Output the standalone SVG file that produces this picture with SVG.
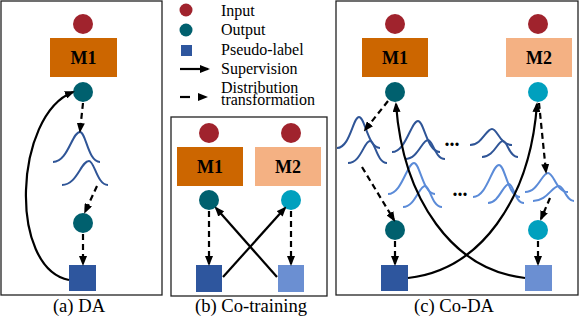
<svg xmlns="http://www.w3.org/2000/svg" width="580" height="318" viewBox="0 0 580 318">
<style>
.panel{fill:#fff;stroke:#222;stroke-width:1.3}
.in{fill:#A0232D}
.out1{fill:#00606E}
.out2{fill:#00A0BE}
.sq1{fill:#2E569E}
.sq2{fill:#6B8FD2}
.m1{fill:#CC6600}
.m2{fill:#F4B183}
text{font-family:'Liberation Serif','DejaVu Serif',serif}
.mt{font-weight:bold;font-size:18px;text-anchor:middle;fill:#000}
.lt{font-size:16px;fill:#000}
.cap{font-size:18.6px;text-anchor:middle;fill:#000}
.dots{font-weight:bold;font-size:20px;text-anchor:middle;fill:#000}
.sup{fill:none;stroke:#000;stroke-width:2.2;marker-end:url(#ah)}
.dis{fill:none;stroke:#000;stroke-width:2.2;stroke-dasharray:6 4;marker-end:url(#ah)}
.gd{fill:none;stroke:#2F5597;stroke-width:2}
.gl{fill:none;stroke:#5B8BD8;stroke-width:2}
</style>
<defs>
<marker id="ah" viewBox="0 0 10 8" refX="8" refY="4" markerWidth="10" markerHeight="8" markerUnits="userSpaceOnUse" orient="auto">
<path d="M0,0 L10,4 L0,8 z" fill="#000"/>
</marker>
</defs>

<!-- panel frames -->
<rect id="panel-a" class="panel" x="1" y="1" width="161" height="294"/>
<rect id="panel-b" class="panel" x="171" y="117" width="156" height="179"/>
<rect id="panel-c" class="panel" x="336" y="1" width="242" height="294"/>

<!-- Panel (a) nodes -->
<g id="a-input"><circle class="in" cx="83" cy="24" r="10"/></g>
<g id="a-m1"><rect class="m1" x="50" y="38" width="67" height="39"/><text class="mt" x="83.5" y="64">M1</text></g>
<g id="a-out"><circle class="out1" cx="83" cy="92" r="10"/></g>
<g id="a-dist">
<path class="gd" d="M53,162 C68,162 72,132 80,132 C86,132 88,162 100,162"/>
<path class="gd" d="M62,185 C77,185 81,161 89,161 C94.5,161 97,185 108,185"/>
</g>
<g id="a-out2"><circle class="out1" cx="83" cy="223" r="10"/></g>
<g id="a-pl"><rect class="sq1" x="69" y="265" width="27" height="26"/></g>

<!-- Panel (b) nodes -->
<g id="b-input1"><circle class="in" cx="209" cy="133" r="10"/></g>
<g id="b-input2"><circle class="in" cx="291" cy="133" r="10"/></g>
<g id="b-m1"><rect class="m1" x="177" y="147" width="66" height="39"/><text class="mt" x="210" y="173">M1</text></g>
<g id="b-m2"><rect class="m2" x="255" y="147" width="66" height="39"/><text class="mt" x="288" y="173">M2</text></g>
<g id="b-out1"><circle class="out1" cx="209" cy="200" r="10"/></g>
<g id="b-out2"><circle class="out2" cx="291" cy="200" r="10"/></g>
<g id="b-pl1"><rect class="sq1" x="196" y="265" width="26" height="27"/></g>
<g id="b-pl2"><rect class="sq2" x="278" y="265" width="26" height="27"/></g>

<!-- Panel (c) nodes -->
<g id="c-input1"><circle class="in" cx="395" cy="24" r="10"/></g>
<g id="c-input2"><circle class="in" cx="538" cy="24" r="10"/></g>
<g id="c-m1"><rect class="m1" x="362" y="38" width="66" height="39"/><text class="mt" x="395" y="64">M1</text></g>
<g id="c-m2"><rect class="m2" x="506" y="38" width="66" height="39"/><text class="mt" x="539" y="64">M2</text></g>
<g id="c-out1"><circle class="out1" cx="395" cy="92" r="10"/></g>
<g id="c-out2"><circle class="out2" cx="538" cy="92" r="10"/></g>
<g id="c-dist-dark">
<path class="gd" d="M337,148 C350,148 353,117 359,117 C365,117 368,148 380,148"/>
<path class="gd" d="M348,163 C361,163 364,141 370,141 C375,141 377,163 387,163"/>
<path class="gd" d="M392,152 C406,152 411,121 418,121 C424,121 427,152 440,152"/>
<path class="gd" d="M405,159 C418,159 422,140 428,140 C433,140 435,159 445,159"/>
<path class="gd" d="M470,145 C482,145 486,129 492,129 C497.5,129 500,145 512,145"/>
<path class="gd" d="M482,157 C494,157 497.5,141 503,141 C507.5,141 509,157 518,157"/>
</g>
<g id="c-dist-light">
<path class="gl" d="M388,194 C402,194 407,163 414,163 C420,163 423,194 435,194"/>
<path class="gl" d="M403,207 C415,207 419,186 425,186 C430,186 432,207 442,207"/>
<path class="gl" d="M473,197 C487,197 492,165 499,165 C505,165 508,197 520,197"/>
<path class="gl" d="M488,203 C499,203 503,184 509,184 C513.5,184 515,203 524,203"/>
<path class="gl" d="M525,192 C538,192 542,173 548,173 C554,173 556,192 568,192"/>
<path class="gl" d="M533,201 C547,201 552,186 559,186 C564,186 566,201 574,201"/>
</g>
<text class="dots" x="452" y="146">...</text>
<text class="dots" x="460" y="196">...</text>
<g id="c-out1b"><circle class="out1" cx="395" cy="230" r="10"/></g>
<g id="c-out2b"><circle class="out2" cx="538" cy="230" r="10"/></g>
<g id="c-pl1"><rect class="sq1" x="381" y="265" width="27" height="26"/></g>
<g id="c-pl2"><rect class="sq2" x="525" y="265" width="27" height="26"/></g>

<!-- Legend -->
<g id="legend">
<circle class="in" cx="186" cy="10" r="6.5"/>
<circle class="out1" cx="186" cy="30" r="6.5"/>
<rect class="sq1" x="181" y="45" width="11" height="11"/>
<line x1="180" y1="69" x2="208" y2="69" stroke="#000" stroke-width="2.2" marker-end="url(#ah)"/>
<line x1="180" y1="97" x2="190" y2="97" stroke="#000" stroke-width="2.2"/>
<path d="M198,93 L208,97 L198,101 z" fill="#000"/>
<text class="lt" x="221" y="16">Input</text>
<text class="lt" x="221" y="35">Output</text>
<text class="lt" x="221" y="55">Pseudo-label</text>
<text class="lt" x="221" y="74">Supervision</text>
<text class="lt" x="221" y="93">Distribution</text>
<text class="lt" x="221" y="105" textLength="94">transformation</text>
</g>

<!-- Connectors -->
<g id="connectors">
<path class="dis" d="M83,103 L80,131"/>
<path class="dis" d="M97,186 L85,212"/>
<path class="dis" d="M83,234 L83,264"/>
<path class="sup" d="M69,280 C8,268 14,115 73,92"/>

<path class="dis" d="M209,211 L209,264"/>
<path class="dis" d="M291,211 L291,264"/>
<path class="sup" d="M223,277 L285,208"/>
<path class="sup" d="M277,277 L216,208"/>

<path class="dis" d="M388,101 L365,130"/>
<path class="dis" d="M362,167 L394,220"/>
<path class="dis" d="M539,103 L546,172"/>
<path class="dis" d="M550,198 L541,219"/>
<path class="dis" d="M395,241 L395,264"/>
<path class="dis" d="M538,241 L538,264"/>
<path class="sup" d="M408,278 C480,270 530,200 537,104"/>
<path class="sup" d="M525,278 C453,270 403,200 396,104"/>
</g>

<!-- Captions -->
<text class="cap" x="79" y="312">(a) DA</text>
<text class="cap" x="251" y="312">(b) Co-training</text>
<text class="cap" x="454" y="312">(c) Co-DA</text>
</svg>
